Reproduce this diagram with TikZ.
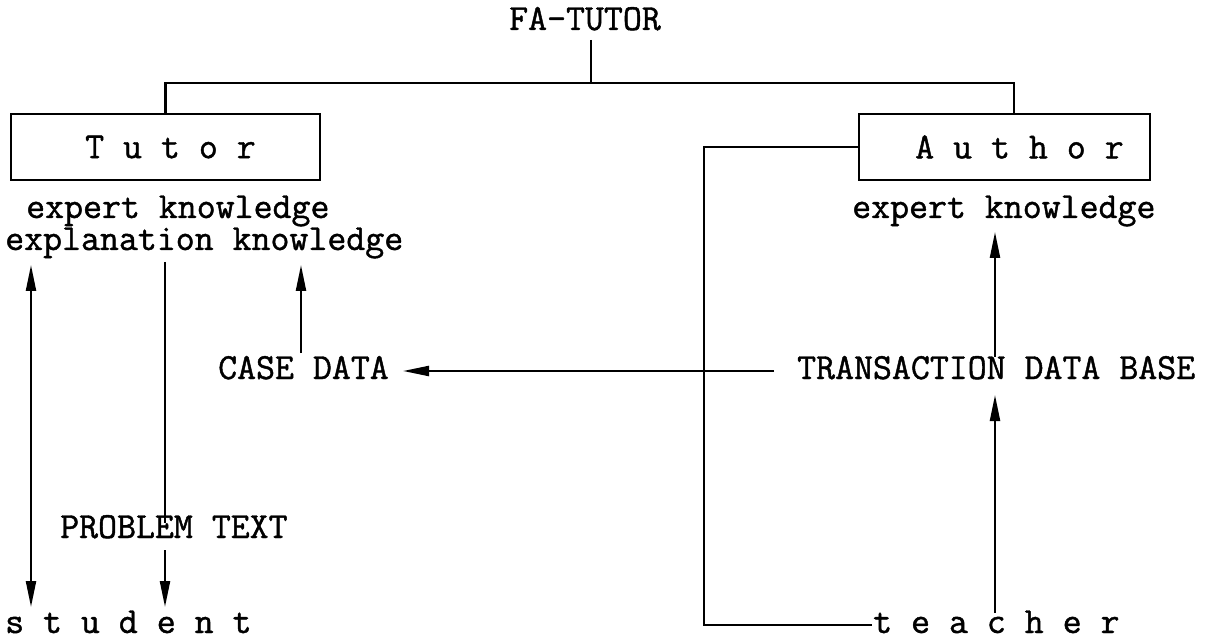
\documentclass[tikz,border=0pt]{standalone}
\usepackage{fontspec}
\usetikzlibrary{arrows.meta}
\newfontfamily\lmttbold{Latin Modern Mono}[FakeBold=1.2]
\newcommand\mytt{\lmttbold\fontsize{36.8}{40}\selectfont}
\begin{document}
\begin{tikzpicture}[x=1pt,y=-1pt,
  txt/.style={font=\mytt, inner sep=0pt, anchor=base west},
  boxnode/.style={draw, line width=2.2pt, minimum width=309pt, minimum height=66pt, inner sep=0pt, font=\mytt},
  ln/.style={line width=2.2pt},
  arr/.style={ln, -{Triangle[length=26pt,width=10pt]}},
  dbl/.style={ln, {Triangle[length=26pt,width=10pt]}-{Triangle[length=26pt,width=10pt]}}]
\useasboundingbox (0,0) rectangle (1211,639);
% texts
\node[txt] (fa) at (509,30) {FA-TUTOR};
\node[boxnode] (tutor) at (165.5,147) {\hspace*{10pt}T u t o r};
\node[boxnode, minimum width=291pt] (author) at (1004.5,147) {\hspace*{30pt}A u t h o r};
\node[txt] (tek) at (26,218) {expert knowledge};
\node[txt] (expl) at (5,250) {explanation knowledge};
\node[txt] (aek) at (852,218) {expert knowledge};
\node[txt] (case) at (218,379) {CASE DATA};
\node[txt] (tdb) at (797,379) {TRANSACTION DATA BASE};
\node[txt] (prob) at (60,538) {PROBLEM TEXT};
\node[txt] (student) at (5,633) {s t u d e n t};
\node[txt] (teacher) at (873,633) {t e a c h e r};
% coordinates
\coordinate (fabot) at (591,40);
\coordinate (bar) at (591,83);
\coordinate (authtop) at (1014,114);
\coordinate (s1) at (31,265);
\coordinate (s2) at (31,607);
\coordinate (p1) at (165,262);
\coordinate (p2) at (165,523);
\coordinate (p3) at (165,550);
\coordinate (p4) at (165,607);
\coordinate (c1) at (301,353);
\coordinate (c2) at (301,265);
\coordinate (h1) at (774,371);
\coordinate (h2) at (403,371);
\coordinate (e1) at (995,357);
\coordinate (e2) at (995,232);
\coordinate (t1) at (995,613);
\coordinate (t2) at (995,395);
\coordinate (turn) at (704,625);
\coordinate (tend) at (872,625);
% hierarchy
\draw[ln] (fabot) -- (bar);
\draw[ln] (tutor.north) |- (bar -| authtop) -- (authtop);
% connectors
\draw[dbl] (s1) -- (s2);
\draw[ln] (p1) -- (p2);
\draw[arr] (p3) -- (p4);
\draw[arr] (c1) -- (c2);
\draw[arr] (h1) -- (h2);
\draw[arr] (e1) -- (e2);
\draw[arr] (t1) -- (t2);
\draw[ln] (author.west) -| (turn) -- (tend);
\end{tikzpicture}
\end{document}
